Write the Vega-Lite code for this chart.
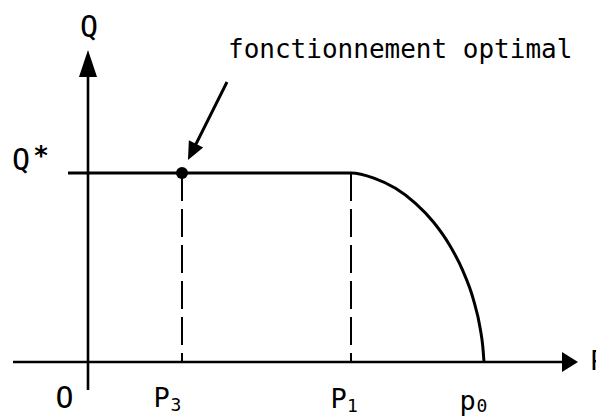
{
  "$schema": "https://vega.github.io/schema/vega-lite/v6.json",
  "width": 596,
  "height": 416,
  "padding": 0,
  "autosize": {"type": "none"},
  "background": "white",
  "config": {"view": {"stroke": null}},
  "datasets": {
    "axes": [
      {"x1": -75, "y1": 0, "x2": 480, "y2": 0},
      {"x1": 0, "y1": -28, "x2": 0, "y2": 300}
    ],
    "dashes": [
      {"name": "P3", "x": 94, "y1": 0, "y2": 189},
      {"name": "P1", "x": 263, "y1": 0, "y2": 189}
    ],
    "curve": [
      {"p": -20, "q": 189},
      {"p": 263, "q": 189},
      {"p": 285.9, "q": 183.9},
      {"p": 307.5, "q": 173.7},
      {"p": 327.5, "q": 158.7},
      {"p": 345.6, "q": 139.8},
      {"p": 361.4, "q": 117.3},
      {"p": 374.7, "q": 91.6},
      {"p": 385.2, "q": 63.2},
      {"p": 392.4, "q": 32.5},
      {"p": 394.7, "q": 16.3},
      {"p": 396, "q": 0}
    ],
    "pointer": [{"x1": 139, "y1": 280, "x2": 106, "y2": 214}],
    "optimum": [{"p": 94, "q": 189}],
    "bigLabels": [
      {"label": "Q", "x": 1, "y": 325},
      {"label": "Q", "x": -67, "y": 192},
      {"label": "O", "x": -23.5, "y": -46}
    ],
    "pLabels": [
      {"label": "P", "x": 73.5, "y": -45},
      {"label": "P", "x": 250.5, "y": -46},
      {"label": "p", "x": 379.5, "y": -48}
    ],
    "subs": [
      {"label": "3", "x": 88, "y": -49},
      {"label": "1", "x": 264.5, "y": -50},
      {"label": "0", "x": 394, "y": -50}
    ]
  },
  "layer": [
    {
      "data": {"name": "axes"},
      "mark": {"type": "rule", "strokeWidth": 2.6, "color": "black"},
      "encoding": {
        "x": {"field": "x1", "type": "quantitative", "scale": {"domain": [-88, 508], "nice": false, "zero": false}, "axis": null},
        "y": {"field": "y1", "type": "quantitative", "scale": {"domain": [-54, 362], "nice": false, "zero": false}, "axis": null},
        "x2": {"field": "x2"},
        "y2": {"field": "y2"}
      }
    },
    {
      "data": {"name": "dashes"},
      "mark": {"type": "rule", "strokeWidth": 2, "color": "black", "strokeDash": [28, 8]},
      "encoding": {
        "x": {"field": "x", "type": "quantitative"},
        "y": {"field": "y2", "type": "quantitative"},
        "y2": {"field": "y1"}
      }
    },
    {
      "data": {"name": "curve"},
      "mark": {"type": "line", "strokeWidth": 3, "color": "black", "interpolate": "monotone"},
      "encoding": {
        "x": {"field": "p", "type": "quantitative"},
        "y": {"field": "q", "type": "quantitative"}
      }
    },
    {
      "data": {"name": "pointer"},
      "mark": {"type": "rule", "strokeWidth": 3, "color": "black"},
      "encoding": {
        "x": {"field": "x1", "type": "quantitative"},
        "y": {"field": "y1", "type": "quantitative"},
        "x2": {"field": "x2"},
        "y2": {"field": "y2"}
      }
    },
    {
      "data": {"values": [{"x": 104, "y": 210}]},
      "mark": {"type": "point", "filled": true, "color": "black", "opacity": 1, "shape": "M0,-1L0.89,1L-0.89,1Z", "size": 324, "angle": 206.6},
      "encoding": {
        "x": {"field": "x", "type": "quantitative"},
        "y": {"field": "y", "type": "quantitative"}
      }
    },
    {
      "data": {"values": [{"x": 0, "y": 298.5}]},
      "mark": {"type": "point", "filled": true, "color": "black", "opacity": 1, "shape": "M0,-1L0.67,1L-0.67,1Z", "size": 729},
      "encoding": {
        "x": {"field": "x", "type": "quantitative"},
        "y": {"field": "y", "type": "quantitative"}
      }
    },
    {
      "data": {"values": [{"x": 482, "y": 0}]},
      "mark": {"type": "point", "filled": true, "color": "black", "opacity": 1, "shape": "M1,0L-1,1.25L-1,-1.25Z", "size": 256},
      "encoding": {
        "x": {"field": "x", "type": "quantitative"},
        "y": {"field": "y", "type": "quantitative"}
      }
    },
    {
      "data": {"name": "optimum"},
      "mark": {"type": "point", "filled": true, "color": "black", "opacity": 1, "shape": "circle", "size": 144},
      "encoding": {
        "x": {"field": "p", "type": "quantitative"},
        "y": {"field": "q", "type": "quantitative"}
      }
    },
    {
      "data": {"values": [{"label": "fonctionnement optimal", "x": 140, "y": 304}]},
      "mark": {"type": "text", "font": "DejaVu Sans Mono", "fontSize": 26, "align": "left", "baseline": "alphabetic", "color": "black"},
      "encoding": {
        "x": {"field": "x", "type": "quantitative"},
        "y": {"field": "y", "type": "quantitative"},
        "text": {"field": "label"}
      }
    },
    {
      "data": {"name": "bigLabels"},
      "mark": {"type": "text", "font": "DejaVu Sans Mono", "fontSize": 30, "align": "center", "baseline": "alphabetic", "color": "black"},
      "encoding": {
        "x": {"field": "x", "type": "quantitative"},
        "y": {"field": "y", "type": "quantitative"},
        "text": {"field": "label"}
      }
    },
    {
      "data": {"values": [{"label": "*", "x": -47, "y": 197}]},
      "mark": {"type": "text", "font": "DejaVu Sans Mono", "fontSize": 26, "fontWeight": "bold", "align": "center", "baseline": "alphabetic", "color": "black"},
      "encoding": {
        "x": {"field": "x", "type": "quantitative"},
        "y": {"field": "y", "type": "quantitative"},
        "text": {"field": "label"}
      }
    },
    {
      "data": {"name": "pLabels"},
      "mark": {"type": "text", "font": "DejaVu Sans Mono", "fontSize": 27, "align": "center", "baseline": "alphabetic", "color": "black"},
      "encoding": {
        "x": {"field": "x", "type": "quantitative"},
        "y": {"field": "y", "type": "quantitative"},
        "text": {"field": "label"}
      }
    },
    {
      "data": {"name": "subs"},
      "mark": {"type": "text", "font": "DejaVu Sans Mono", "fontSize": 18, "align": "center", "baseline": "alphabetic", "color": "black"},
      "encoding": {
        "x": {"field": "x", "type": "quantitative"},
        "y": {"field": "y", "type": "quantitative"},
        "text": {"field": "label"}
      }
    },
    {
      "data": {"values": [{"label": "P", "x": 502, "y": -8}]},
      "mark": {"type": "text", "font": "DejaVu Sans Mono", "fontSize": 27, "align": "left", "baseline": "alphabetic", "color": "black"},
      "encoding": {
        "x": {"field": "x", "type": "quantitative"},
        "y": {"field": "y", "type": "quantitative"},
        "text": {"field": "label"}
      }
    }
  ]
}
